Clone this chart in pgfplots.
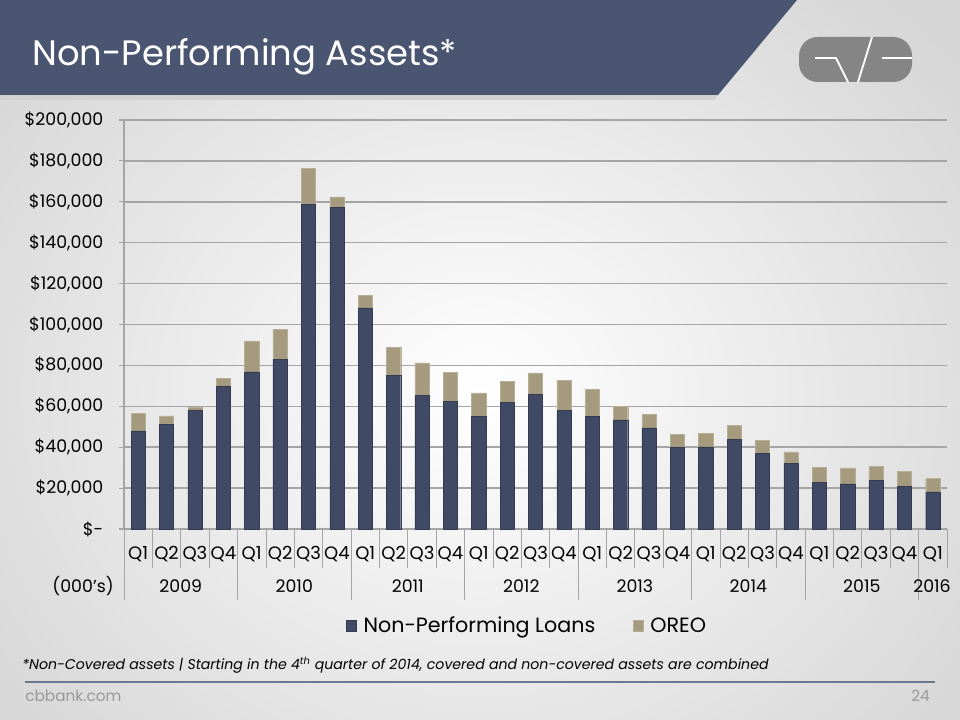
\documentclass[border=0pt]{standalone}
\usepackage{pgfplots}
\pgfplotsset{compat=1.18}
\usepackage{pgfplotstable}
\usepackage{fontspec}
\setmainfont{Poppins}
\definecolor{npl}{RGB}{64,74,100}
\definecolor{oreo}{RGB}{165,154,125}
\definecolor{banner}{RGB}{74,85,113}
\definecolor{gridc}{RGB}{165,165,165}
\pgfplotstableread{
idx npl oreo
0 47970 8660
1 51250 4060
2 57910 1470
3 69840 3920
4 76850 15170
5 82870 14860
6 158900 17300
7 157120 5230
8 108170 6210
9 75050 13710
10 65260 15990
11 62500 14000
12 55150 11420
13 61830 10460
14 65920 10440
15 57910 14870
16 54970 13410
17 53350 6710
18 49440 6510
19 39790 6560
20 40140 6540
21 43900 6680
22 37040 6200
23 32150 5540
24 22860 7340
25 22030 7830
26 23640 7050
27 20900 7150
28 18110 6510
}\npa
\begin{document}
\begin{tikzpicture}
\useasboundingbox (0,0) rectangle (720pt,540pt);
\shade[inner color=white, outer color=black!16] (-100pt,-150pt) rectangle (820pt,640pt);
\begin{scope}[shift={(0pt,540pt)},x=0.75pt,y=-0.75pt]
  % banner shadow
  \fill[black!18] (0,95) -- (718,95) -- (714,100) -- (0,100) -- cycle;
  \fill[banner] (0,0) -- (797,0) -- (718,95) -- (0,95) -- cycle;
  \node[anchor=base west, text=white, font=\fontsize{26.5}{30}\selectfont, inner sep=0pt] at (32,66) {Non-Performing Assets*};
  % logo
  \fill[black!48, rounded corners=14] (799,37) rectangle (912,82);
  \draw[white, line width=1.4pt] (815,58) -- (836,58) -- (848,82);
  \draw[white, line width=1.4pt] (872,37) -- (858,82);
  \draw[white, line width=1.4pt] (882,58) -- (912,58);
  % category separators
  \foreach \k in {0,...,29} {
    \draw[gridc, line width=0.6pt] ({124+28.38*\k},529) -- ({124+28.38*\k},568);
  }
  \foreach \k in {0,4,8,12,16,20,24,28} {
    \draw[gridc, line width=0.6pt] ({124+28.38*\k},529) -- ({124+28.38*\k},600);
  }
  % year labels
  \foreach \yr [count=\i from 0] in {2009,2010,2011,2012,2013,2014,2015} {
    \node[font=\fontsize{13}{15}\selectfont, inner sep=0pt] at ({124+28.38*(4*\i+2)},586) {\yr};
  }
  \node[font=\fontsize{13}{15}\selectfont, inner sep=0pt] at (932,586) {2016};
  \node[anchor=east, font=\fontsize{13}{15}\selectfont, inner sep=0pt] at (114,586) {(000’s)};
  % footnote
  \node[anchor=base west, font=\itshape\fontsize{10.6}{12}\selectfont, inner sep=0pt] at (22,670) {*Non-Covered assets | Starting in the 4\textsuperscript{th} quarter of 2014, covered and non-covered assets are combined};
  \draw[banner!80, line width=1.1pt] (25,682) -- (935,682);
  \node[anchor=base west, text=black!40, font=\fontsize{11.5}{14}\selectfont, inner sep=0pt] at (25,702) {cbbank.com};
  \node[anchor=base east, text=black!40, font=\fontsize{11.5}{14}\selectfont, inner sep=0pt] at (930,702) {24};
\end{scope}
\begin{axis}[
  at={(93pt,143.25pt)}, anchor=south west,
  scale only axis, width=617.25pt, height=306.75pt,
  ybar stacked, bar width=0.5,
  xmin=-0.5, xmax=28.5, ymin=0, ymax=200000,
  axis x line*=bottom, axis y line*=left,
  axis line style={gridc, line width=0.8pt, -},
  ymajorgrids, major grid style={gridc, line width=1.1pt},
  ytick={0,20000,...,200000},
  yticklabels={\$-,{\$20,000},{\$40,000},{\$60,000},{\$80,000},{\$100,000},{\$120,000},{\$140,000},{\$160,000},{\$180,000},{\$200,000}},
  yticklabel style={font=\fontsize{13}{15}\selectfont, xshift=-8pt},
  ytick style={gridc, line width=0.8pt}, tick align=outside, major tick length=4pt,
  xtick={0,...,28},
  xticklabels={Q1,Q2,Q3,Q4,Q1,Q2,Q3,Q4,Q1,Q2,Q3,Q4,Q1,Q2,Q3,Q4,Q1,Q2,Q3,Q4,Q1,Q2,Q3,Q4,Q1,Q2,Q3,Q4,Q1},
  x tick style={draw=none},
  xticklabel style={font=\fontsize{13.5}{15}\selectfont, anchor=center, yshift=-15pt, inner sep=0pt},
  scaled y ticks=false,
  legend style={at={(0.49,-0.237)}, anchor=center, legend columns=2, draw=none, fill=none,
    font=\fontsize{15.5}{18}\selectfont,
    /tikz/every even column/.append style={column sep=26pt}},
  legend image code/.code={\fill[#1] (-4pt,-4pt) rectangle (4pt,4pt);},
  clip=false,
]
\addplot[fill=npl, draw=npl!80!black, line width=0.3pt] table[x=idx, y=npl] {\npa};
\addplot[fill=oreo, draw=oreo!80!white, line width=0.3pt] table[x=idx, y=oreo] {\npa};
\legend{\hspace{3pt}Non-Performing Loans, \hspace{3pt}OREO}
\end{axis}
\end{tikzpicture}
\end{document}
